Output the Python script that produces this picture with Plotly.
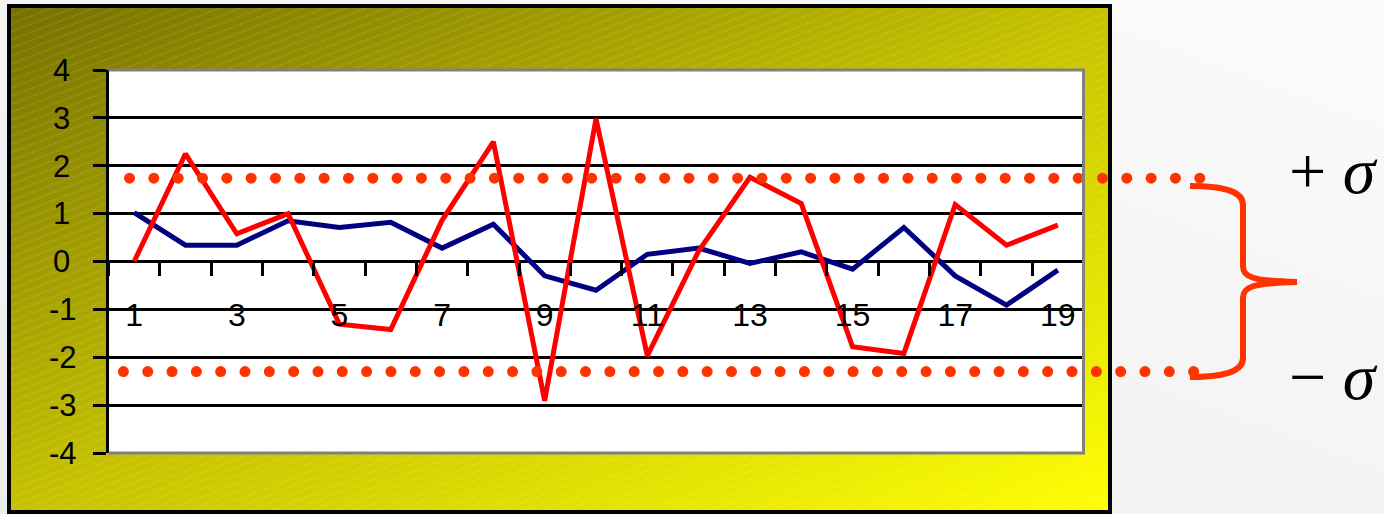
import base64
import numpy as np
import plotly.graph_objects as go

# ---- data -------------------------------------------------------------
categories = list(range(1, 20))
series_blue = [1.02, 0.34, 0.34, 0.85, 0.71, 0.82, 0.28, 0.78, -0.30, -0.60,
               0.15, 0.28, -0.04, 0.20, -0.16, 0.71, -0.30, -0.91, -0.18]
series_red = [0.0, 2.25, 0.58, 1.00, -1.31, -1.42, 0.86, 2.50, -2.91, 2.98,
              -1.97, 0.22, 1.76, 1.21, -1.78, -1.92, 1.19, 0.34, 0.76]
sigma_plus = 1.74
sigma_minus = -2.30
y_tick_vals = [-4, -3, -2, -1, 0, 1, 2, 3, 4]
x_label_vals = [1, 3, 5, 7, 9, 11, 13, 15, 17, 19]

# ---- canvas geometry (pixels) -----------------------------------------
W, H = 1384, 514
PLOT_L, PLOT_R, PLOT_T, PLOT_B = 108.5, 1083.5, 70, 453
X_RANGE = [0.5, 19.5]


def px(x, y):
    """pixel -> paper coordinates"""
    return x / W, 1 - y / H


x_dom = [PLOT_L / W, PLOT_R / W]
y_dom = [1 - PLOT_B / H, 1 - PLOT_T / H]
zero_pos = (y_dom[0] + y_dom[1]) / 2

# a full-width companion x axis with the same category scale, so the
# dotted sigma limits can run past the plot area up to the brace
units_per_px = (X_RANGE[1] - X_RANGE[0]) / (PLOT_R - PLOT_L)
wide_range = [X_RANGE[0] - PLOT_L * units_per_px,
              X_RANGE[0] + (W - PLOT_L) * units_per_px]

FONT = "Liberation Sans, Arial, sans-serif"
SIGMA_COLOR = "#ff3300"

# ---- backdrop: grey slide, olive-to-yellow hatched frame ---------------
svg = f'''<svg xmlns="http://www.w3.org/2000/svg" width="{W}" height="{H}" viewBox="0 0 {W} {H}">
<defs>
<linearGradient id="bg" x1="0" y1="1" x2="1" y2="0">
<stop offset="0" stop-color="#ececec"/><stop offset="1" stop-color="#fbfbfb"/></linearGradient>
<linearGradient id="fr" x1="0" y1="0" x2="1" y2="1">
<stop offset="0" stop-color="#767000"/><stop offset="0.5" stop-color="#c6c200"/>
<stop offset="1" stop-color="#ffff00"/></linearGradient>
<pattern id="ht" width="24" height="7.5" patternUnits="userSpaceOnUse" patternTransform="rotate(-21)">
<line x1="0" y1="3.75" x2="24" y2="3.75" stroke="#ffffff" stroke-opacity="0.22"
 stroke-width="1" stroke-dasharray="2 1.2"/></pattern>
</defs>
<rect width="{W}" height="{H}" fill="url(#bg)"/>
<rect x="9" y="6" width="1101" height="506" fill="url(#fr)"/>
<rect x="9" y="6" width="1101" height="506" fill="url(#ht)"/>
<rect x="9" y="6" width="1101" height="506" fill="none" stroke="#000000" stroke-width="4"/>
</svg>'''
backdrop = "data:image/svg+xml;base64," + base64.b64encode(svg.encode()).decode()

fig = go.Figure()

fig.add_trace(go.Scatter(x=categories, y=series_blue, mode="lines",
                         line=dict(color="#000080", width=5)))
fig.add_trace(go.Scatter(x=categories, y=series_red, mode="lines",
                         line=dict(color="#ff0000", width=5)))

# dotted sigma limits
dot_step = 0.474
dot_count = 45
for level, start in ((sigma_plus, 0.91), (sigma_minus, 0.79)):
    xs = start + dot_step * np.arange(dot_count)
    fig.add_trace(go.Scatter(x=xs, y=[level] * dot_count, mode="markers",
                             xaxis="x3", yaxis="y3",
                             marker=dict(color=SIGMA_COLOR, size=11, line=dict(width=0))))

# white plot area
bx0, by0 = px(PLOT_L, PLOT_T)
bx1, by1 = px(PLOT_R, PLOT_B)
fig.add_shape(type="rect", xref="paper", yref="paper", layer="below",
              x0=bx0, y0=by1, x1=bx1, y1=by0, fillcolor="#ffffff", line=dict(width=0))
# plot-area border (top, right, bottom) in grey
fig.add_shape(type="path", xref="paper", yref="paper", layer="above",
              path=f"M {bx0},{by0} L {bx1},{by0} L {bx1},{by1} L {bx0},{by1}",
              line=dict(color="#808080", width=3))

# curly brace joining the two limits
brace_pts = [("M", [(1190, 186)]),
             ("C", [(1226, 186), (1243, 192), (1243, 205)]),
             ("L", [(1243, 266)]),
             ("C", [(1243, 277), (1252, 281), (1297, 282)]),
             ("C", [(1252, 283), (1243, 287), (1243, 298)]),
             ("L", [(1243, 358)]),
             ("C", [(1243, 371), (1226, 377), (1190, 377)])]
path = " ".join(cmd + " " + " ".join("{:.5f},{:.5f}".format(*px(x, y)) for x, y in pts)
                for cmd, pts in brace_pts)
fig.add_shape(type="path", xref="paper", yref="paper", layer="above", path=path,
              line=dict(color=SIGMA_COLOR, width=6))

for label, ypix in (("+ <i>σ</i>", 171), ("− <i>σ</i>", 376)):
    ax_, ay_ = px(1333, ypix)
    fig.add_annotation(x=ax_, y=ay_, xref="paper", yref="paper", text=label,
                       showarrow=False, xanchor="center", yanchor="middle",
                       font=dict(family="Liberation Serif, Times New Roman, serif",
                                 size=66, color="#000000"))

fig.update_layout(
    width=W, height=H,
    margin=dict(l=0, r=0, t=0, b=0, pad=0),
    paper_bgcolor="#f3f3f3",
    plot_bgcolor="rgba(0,0,0,0)",
    showlegend=False,
    images=[dict(source=backdrop, xref="paper", yref="paper", x=0, y=1,
                 sizex=1, sizey=1, xanchor="left", yanchor="top",
                 sizing="stretch", layer="below")],
    xaxis=dict(domain=x_dom, range=X_RANGE, anchor="free", position=zero_pos,
               tickmode="array", tickvals=x_label_vals,
               ticktext=[str(v) for v in x_label_vals],
               ticks="", showgrid=False, showline=False, zeroline=False,
               ticklabelstandoff=31, automargin=False,
               tickfont=dict(family=FONT, size=32, color="#000000"),
               minor=dict(tickmode="array",
                          tickvals=[c + 0.5 for c in [0] + categories],
                          ticks="outside", ticklen=13, tickwidth=2.5,
                          tickcolor="#000000", showgrid=False)),
    yaxis=dict(domain=y_dom, range=[-4, 4], tickmode="array", tickvals=y_tick_vals,
               ticktext=[str(v) if v < 0 else str(v) + "\u2009" for v in y_tick_vals],
               ticks="outside", ticklen=13, tickwidth=2.5, tickcolor="#000000",
               showline=True, linecolor="#000000", linewidth=2.5,
               showgrid=True, gridcolor="#000000", gridwidth=2.5, zeroline=False,
               ticklabelstandoff=10, automargin=False,
               tickfont=dict(family=FONT, size=31, color="#000000")),
    xaxis3=dict(domain=[0, 1], range=wide_range, anchor="y3", visible=False,
                showgrid=False, zeroline=False),
    yaxis3=dict(domain=y_dom, range=[-4, 4], anchor="x3", visible=False,
                showgrid=False, zeroline=False),
)

fig.write_html("out.html")
